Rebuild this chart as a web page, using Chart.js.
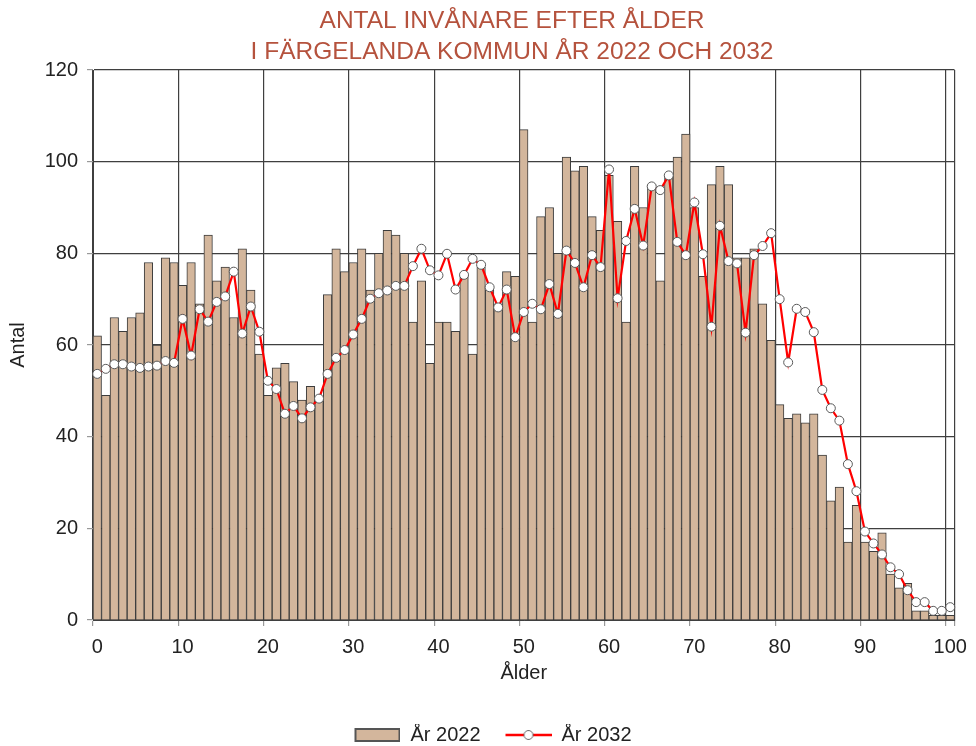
<!DOCTYPE html>
<html>
<head>
<meta charset="utf-8">
<script src="https://cdn.jsdelivr.net/npm/chart.js@4.4.1/dist/chart.umd.min.js"></script>
<style>
  body { margin: 0; background: #fff; }
</style>
</head>
<body>
<canvas id="ageChart" width="976" height="746"></canvas>
<script>
// Data
const ages = [
  0, 1, 2, 3, 4, 5, 6, 7, 8, 9, 10, 11, 12, 13, 14, 15, 16, 17, 18, 19,
  20, 21, 22, 23, 24, 25, 26, 27, 28, 29, 30, 31, 32, 33, 34, 35, 36, 37, 38, 39,
  40, 41, 42, 43, 44, 45, 46, 47, 48, 49, 50, 51, 52, 53, 54, 55, 56, 57, 58, 59,
  60, 61, 62, 63, 64, 65, 66, 67, 68, 69, 70, 71, 72, 73, 74, 75, 76, 77, 78, 79,
  80, 81, 82, 83, 84, 85, 86, 87, 88, 89, 90, 91, 92, 93, 94, 95, 96, 97, 98, 99, 100
];

const pop2022 = [
  62, 49, 66, 63, 66, 67, 78, 60, 79, 78, 73, 78, 69, 84, 74, 77, 66, 81, 72, 58,
  49, 55, 56, 52, 48, 51, 48, 71, 81, 76, 78, 81, 72, 80, 85, 84, 80, 65, 74, 56,
  65, 65, 63, 75, 58, 77, 72, 69, 76, 75, 107, 65, 88, 90, 80, 101, 98, 99, 88, 85,
  97, 87, 65, 99, 90, 95, 74, 97, 101, 106, 90, 75, 95, 99, 95, 79, 79, 81, 69, 61,
  47, 44, 45, 43, 45, 36, 26, 29, 17, 25, 17, 15, 19, 10, 7, 8, 2, 2, 1, 1, 1
];

const pop2032 = [
  53.7, 54.8, 55.8, 55.8, 55.3, 55.0, 55.3, 55.5, 56.5, 56.1,
  65.7, 57.7, 67.8, 65.1, 69.4, 70.6, 76.0, 62.5, 68.4, 62.9,
  52.2, 50.4, 45.0, 46.7, 44.0, 46.4, 48.3, 53.7, 57.2, 58.9,
  62.3, 65.7, 70.1, 71.3, 71.9, 72.9, 72.9, 77.2, 81.0, 76.3,
  75.2, 79.9, 72.1, 75.3, 78.8, 77.5, 72.6, 68.2, 72.1, 61.7,
  67.2, 69.0, 67.8, 73.3, 66.8, 80.6, 77.9, 72.6, 79.6, 77.0,
  98.3, 70.2, 82.7, 89.7, 81.7, 94.6, 93.8, 97.0, 82.5, 79.6,
  91.1, 79.8, 64.0, 86.0, 78.3, 77.8, 62.7, 79.6, 81.6, 84.4,
  70.0, 56.2, 67.9, 67.2, 62.8, 50.2, 46.2, 43.5, 34.0, 28.1,
  19.3, 16.7, 14.3, 11.5, 10.0, 6.5, 3.9, 3.9, 2.0, 2.0, 2.8
];

const xTickLabels = [0, 10, 20, 30, 40, 50, 60, 70, 80, 90, 100];
const titleLines = ['ANTAL INVÅNARE EFTER ÅLDER', 'I FÄRGELANDA KOMMUN ÅR 2022 OCH 2032'];
const seriesNames = ['År 2022', 'År 2032'];

const sans = '"Liberation Sans", Arial, sans-serif';
const barFill = '#D3B69C';
const barEdge = '#3c3c3c';
const gridColor = '#3f3f3f';
const titleColor = '#B5523D';

// legend symbols: 24px blank on the left, symbol in the remaining 46px
const makeSwatch = kind => {
  const c = document.createElement('canvas');
  c.width = 70;
  c.height = 16;
  const g = c.getContext('2d');
  if (kind === 'bar') {
    g.fillStyle = barFill;
    g.fillRect(25, 2, 44, 12);
    g.strokeStyle = '#555';
    g.lineWidth = 2;
    g.strokeRect(25, 2, 44, 12);
  } else {
    g.strokeStyle = '#ff0000';
    g.lineWidth = 2.5;
    g.beginPath();
    g.moveTo(24, 8);
    g.lineTo(70, 8);
    g.stroke();
    g.beginPath();
    g.arc(47, 8, 4.5, 0, Math.PI * 2);
    g.fillStyle = '#fff';
    g.fill();
    g.strokeStyle = '#666';
    g.lineWidth = 1;
    g.stroke();
  }
  return c;
};
const swatches = [makeSwatch('bar'), makeSwatch('line')];

// two-line title drawn over the top padding
const titlePlugin = {
  id: 'twoLineTitle',
  afterDraw(chart) {
    const ctx = chart.ctx;
    ctx.save();
    ctx.font = '24.5px ' + sans;
    ctx.fillStyle = titleColor;
    ctx.textAlign = 'center';
    ctx.textBaseline = 'middle';
    titleLines.forEach((line, i) => ctx.fillText(line, 512, 21 + i * 31));
    ctx.restore();
  }
};

const renderAgeChart = () => {
  const ctx = document.getElementById('ageChart').getContext('2d');

  new Chart(ctx, {
    type: 'bar',
    data: {
      labels: ages,
      datasets: [
        {
          type: 'bar',
          label: seriesNames[0],
          data: pop2022,
          backgroundColor: barFill,
          borderColor: barEdge,
          borderWidth: 1,
          categoryPercentage: 1.0,
          barPercentage: 1.0,
          order: 2,
        },
        {
          type: 'line',
          label: seriesNames[1],
          data: pop2032,
          borderColor: '#ff0000',
          borderWidth: 2.2,
          pointRadius: 4.5,
          pointBackgroundColor: '#ffffff',
          pointBorderColor: '#5a5a5a',
          pointBorderWidth: 1,
          tension: 0,
          order: 1,
        },
      ],
    },
    options: {
      responsive: false,
      animation: false,
      devicePixelRatio: 1,
      layout: {
        padding: { top: 70, right: 14, left: 0, bottom: -9 },
      },
      plugins: {
        tooltip: { enabled: false },
        legend: {
          position: 'bottom',
          labels: {
            usePointStyle: true,
            pointStyleWidth: 70,
            padding: 1,
            color: '#222',
            font: { family: sans, size: 20 },
            generateLabels: chart => chart.data.datasets.map((ds, i) => ({
              text: ds.label,
              pointStyle: swatches[i],
              datasetIndex: i,
              hidden: false,
              lineWidth: 0,
              fontColor: '#222',
            })),
          },
        },
      },
      scales: {
        x: {
          afterFit: scale => { scale.height = 104; },
          grid: {
            offset: true,
            color: c => (c.type !== 'tick' || c.index % 10 === 0) ? gridColor : 'rgba(0,0,0,0)',
            tickColor: c => (c.type !== 'tick' || c.index % 10 === 0) ? '#999' : 'rgba(0,0,0,0)',
            tickLength: 6,
            lineWidth: 1.2,
          },
          border: { color: gridColor },
          ticks: {
            autoSkip: false,
            maxRotation: 0,
            padding: 9,
            color: '#222',
            font: { family: sans, size: 20 },
            callback: (value, index) => xTickLabels.includes(ages[index]) ? String(ages[index]) : '',
          },
          title: {
            display: true,
            text: 'Ålder',
            color: '#222',
            font: { family: sans, size: 20 },
            padding: { top: 0, bottom: 39 },
          },
        },
        y: {
          min: 0,
          max: 120,
          afterFit: scale => { scale.width = 93; },
          grid: {
            color: gridColor,
            tickColor: '#999',
            tickLength: 6,
            lineWidth: 1.2,
          },
          border: { color: gridColor },
          ticks: {
            stepSize: 20,
            padding: 9,
            color: '#222',
            font: { family: sans, size: 20 },
          },
          title: {
            display: true,
            text: 'Antal',
            color: '#222',
            font: { family: sans, size: 20 },
            padding: { top: 6, bottom: 0 },
          },
        },
      },
    },
    plugins: [titlePlugin],
  });
};

renderAgeChart();
</script>
</body>
</html>
